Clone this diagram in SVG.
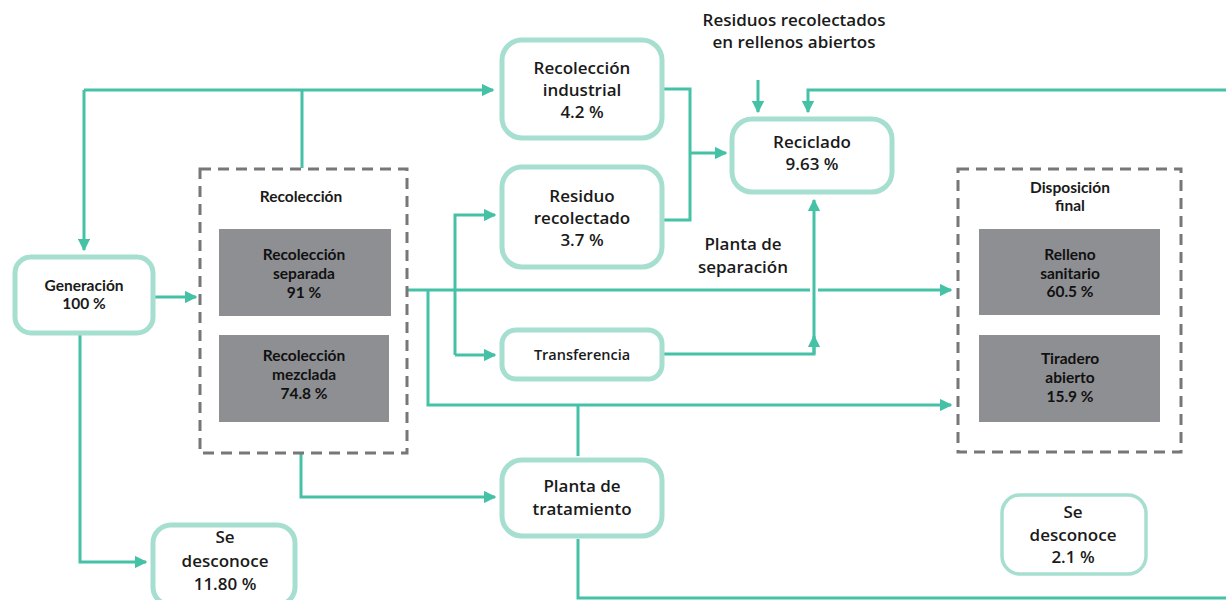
<svg xmlns="http://www.w3.org/2000/svg" width="1226" height="600" viewBox="0 0 1226 600">
<defs>
<marker id="ah" viewBox="0 0 10 10" refX="9" refY="5" markerWidth="4.2" markerHeight="4.2" orient="auto" markerUnits="strokeWidth">
<path d="M0,0 L10,5 L0,10 z" fill="#45c1a6"/>
</marker>
<style>
.ln{fill:none;stroke:#45c1a6;stroke-width:3}
.nd{fill:#fff;stroke:#a6dfd0;stroke-width:5}
.grp{fill:#fff;stroke:#777;stroke-width:3;stroke-dasharray:11 7}
.gr{fill:#8e8f92}
.t{font-family:"Open Sans",sans-serif;font-weight:600;font-size:17px;fill:#1a1a1a;text-anchor:middle}
.s{font-family:Lato,"Liberation Sans",sans-serif;font-weight:700;font-size:15.5px;fill:#1a1a1a;text-anchor:middle}
.sd{font-family:Lato,"Liberation Sans",sans-serif;font-weight:700;font-size:15.5px;fill:#111;text-anchor:middle}
</style>
</defs>
<rect width="1226" height="600" fill="#fff"/>

<g id="connectors">
<path class="ln" d="M84,90 H493" marker-end="url(#ah)"/>
<path class="ln" d="M84,90 V250" marker-end="url(#ah)"/>
<path class="ln" d="M302,90 V168"/>
<path class="ln" d="M155,297 H196" marker-end="url(#ah)"/>
<path class="ln" d="M80,334 V562 H146" marker-end="url(#ah)"/>
<path class="ln" d="M664,89 H690 V220 H664"/>
<path class="ln" d="M690,153 H726" marker-end="url(#ah)"/>
<path class="ln" d="M758,80 V112" marker-end="url(#ah)"/>
<path class="ln" d="M1226,90 H808 V112" marker-end="url(#ah)"/>
<path class="ln" d="M407,290 H810"/>
<path class="ln" d="M818,290 H951" marker-end="url(#ah)"/>
<path class="ln" d="M428,290 V405 H951" marker-end="url(#ah)"/>
<path class="ln" d="M455,355 V215 H495" marker-end="url(#ah)"/>
<path class="ln" d="M455,355 H495" marker-end="url(#ah)"/>
<path class="ln" d="M664,354 H814 V200" marker-end="url(#ah)"/>
<path class="ln" d="M814,354 V336" marker-end="url(#ah)"/>
<path class="ln" d="M578,405 V456"/>
<path class="ln" d="M301,453 V497 H495" marker-end="url(#ah)"/>
<path class="ln" d="M578,539 V598 H1226"/>
</g>

<g id="generacion">
<rect class="nd" x="15" y="257" width="138" height="76" rx="16"/>
<text class="s" x="84" y="291">Generación</text>
<text class="s" x="84" y="309">100 %</text>
</g>

<g id="recoleccion">
<rect class="grp" x="200" y="169" width="207" height="284"/>
<text class="s" x="301" y="202">Recolección</text>
<g id="rec-separada">
<rect class="gr" x="219" y="229" width="172" height="87"/>
<text class="sd" x="304" y="260">Recolección</text>
<text class="sd" x="304" y="279">separada</text>
<text class="sd" x="304" y="298">91 %</text>
</g>
<g id="rec-mezclada">
<rect class="gr" x="219" y="335" width="170" height="87"/>
<text class="sd" x="304" y="361">Recolección</text>
<text class="sd" x="304" y="380">mezclada</text>
<text class="sd" x="304" y="399">74.8 %</text>
</g>
</g>

<g id="rec-industrial">
<rect class="nd" x="502" y="40" width="160" height="98" rx="20"/>
<text class="t" x="582" y="74">Recolección</text>
<text class="t" x="582" y="96">industrial</text>
<text class="t" x="582" y="118">4.2 %</text>
</g>

<g id="residuo-recolectado">
<rect class="nd" x="502" y="167" width="160" height="100" rx="20"/>
<text class="t" x="582" y="202">Residuo</text>
<text class="t" x="582" y="224">recolectado</text>
<text class="t" x="582" y="246">3.7 %</text>
</g>

<g id="transferencia">
<rect class="nd" x="502" y="330" width="160" height="49" rx="14"/>
<text class="t" x="582" y="360" style="font-size:14.5px">Transferencia</text>
</g>

<g id="planta-tratamiento">
<rect class="nd" x="502" y="460" width="160" height="76" rx="20"/>
<text class="t" x="582" y="492">Planta de</text>
<text class="t" x="582" y="515">tratamiento</text>
</g>

<g id="reciclado">
<rect class="nd" x="732" y="119" width="160" height="73" rx="20"/>
<text class="t" x="812" y="148">Reciclado</text>
<text class="t" x="812" y="170">9.63 %</text>
</g>

<g id="residuos-rellenos">
<text class="t" x="794" y="26">Residuos recolectados</text>
<text class="t" x="794" y="48">en rellenos abiertos</text>
</g>

<g id="planta-separacion">
<text class="t" x="743" y="250">Planta de</text>
<text class="t" x="743" y="273">separación</text>
</g>

<g id="disposicion">
<rect class="grp" x="958" y="169" width="223" height="283"/>
<text class="s" x="1070" y="193">Disposición</text>
<text class="s" x="1070" y="211">final</text>
<g id="relleno">
<rect class="gr" x="979" y="229" width="181" height="86"/>
<text class="sd" x="1070" y="260">Relleno</text>
<text class="sd" x="1070" y="279">sanitario</text>
<text class="sd" x="1070" y="297">60.5 %</text>
</g>
<g id="tiradero">
<rect class="gr" x="979" y="335" width="181" height="87"/>
<text class="sd" x="1070" y="364">Tiradero</text>
<text class="sd" x="1070" y="383">abierto</text>
<text class="sd" x="1070" y="402">15.9 %</text>
</g>
</g>

<g id="se-desconoce-1">
<rect class="nd" x="153" y="525" width="142" height="80" rx="18"/>
<text class="t" x="225" y="543">Se</text>
<text class="t" x="225" y="567">desconoce</text>
<text class="t" x="225" y="590">11.80 %</text>
</g>

<g id="se-desconoce-2">
<rect class="nd" x="1002" y="495" width="144" height="79" rx="18" style="stroke-width:3.5"/>
<text class="t" x="1073" y="518">Se</text>
<text class="t" x="1073" y="541">desconoce</text>
<text class="t" x="1073" y="563">2.1 %</text>
</g>
</svg>
